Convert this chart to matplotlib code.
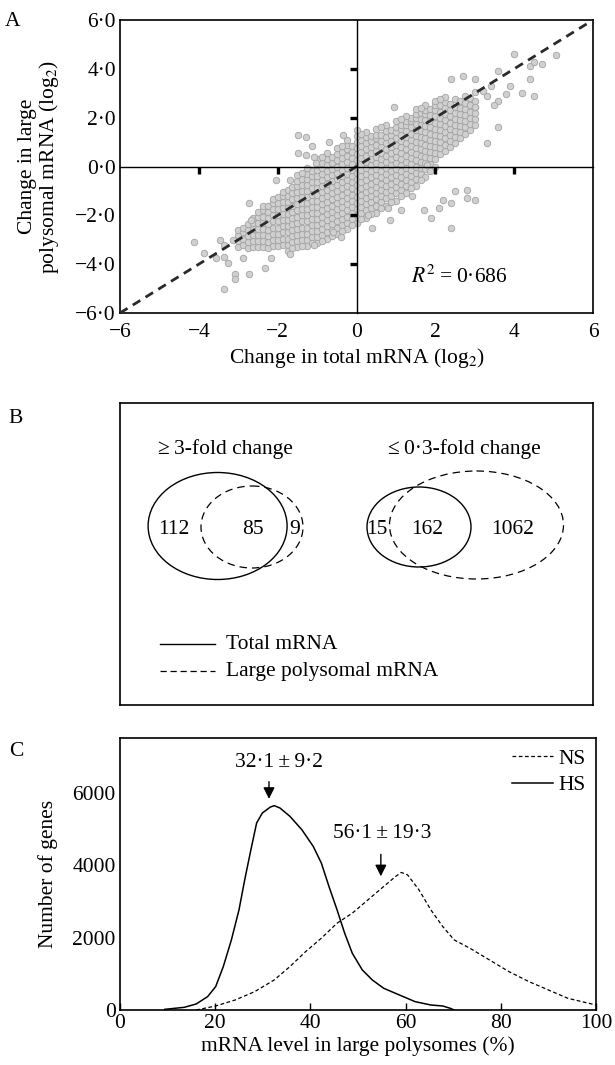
import matplotlib
matplotlib.use("Agg")
import matplotlib.pyplot as plt
from matplotlib.patches import Ellipse
from matplotlib.ticker import FuncFormatter

plt.rcParams['font.family'] = ['Liberation Serif', 'DejaVu Serif']
plt.rcParams['mathtext.fontset'] = 'stix'
plt.rcParams['font.size'] = 15.5

# ---- Panel A data: dense core (x column, y values), its fringe, and scattered outliers
core_columns = [
    (-3.0, [-3.3, -3.05, -2.8, -2.6]),
    (-2.875, [-3.2, -2.95, -2.7, -2.5]),
    (-2.75, [-3.35, -3.1, -2.85, -2.6, -2.35]),
    (-2.625, [-3.3, -3.05, -2.8, -2.55, -2.3, -2.1]),
    (-2.5, [-3.3, -3.05, -2.8, -2.55, -2.3, -2.05, -1.85]),
    (-2.375, [-3.3, -3.05, -2.8, -2.55, -2.3, -2.05, -1.8, -1.6]),
    (-2.25, [-3.35, -3.1, -2.85, -2.6, -2.35, -2.1, -1.85, -1.6]),
    (-2.125, [-3.25, -3.0, -2.75, -2.5, -2.25, -2.0, -1.75, -1.5, -1.35]),
    (-2.0, [-3.25, -3.0, -2.75, -2.5, -2.25, -2.0, -1.75, -1.5, -1.25]),
    (-1.875, [-3.2, -2.95, -2.7, -2.45, -2.2, -1.95, -1.7, -1.45, -1.2, -1.05]),
    (-1.75, [-3.2, -2.95, -2.7, -2.45, -2.2, -1.95, -1.7, -1.45, -1.2, -0.95]),
    (-1.625, [-3.1, -2.85, -2.6, -2.35, -2.1, -1.85, -1.6, -1.35, -1.1, -0.85]),
    (-1.5, [-3.05, -2.8, -2.55, -2.3, -2.05, -1.8, -1.55, -1.3, -1.05, -0.8, -0.6]),
    (-1.375, [-3.0, -2.75, -2.5, -2.25, -2.0, -1.75, -1.5, -1.25, -1.0, -0.75, -0.5]),
    (-1.25, [-3.0, -2.75, -2.5, -2.25, -2.0, -1.75, -1.5, -1.25, -1.0, -0.75, -0.5, -0.3]),
    (-1.125, [-2.9, -2.65, -2.4, -2.15, -1.9, -1.65, -1.4, -1.15, -0.9, -0.65, -0.4, -0.2]),
    (-1.0, [-2.9, -2.65, -2.4, -2.15, -1.9, -1.65, -1.4, -1.15, -0.9, -0.65, -0.4, -0.15, 0.05]),
    (-0.875, [-2.8, -2.55, -2.3, -2.05, -1.8, -1.55, -1.3, -1.05, -0.8, -0.55, -0.3, -0.05, 0.15]),
    (-0.75, [-2.7, -2.45, -2.2, -1.95, -1.7, -1.45, -1.2, -0.95, -0.7, -0.45, -0.2, 0.05, 0.3]),
    (-0.625, [-2.6, -2.35, -2.1, -1.85, -1.6, -1.35, -1.1, -0.85, -0.6, -0.35, -0.1, 0.15, 0.4]),
    (-0.5, [-2.5, -2.25, -2.0, -1.75, -1.5, -1.25, -1.0, -0.75, -0.5, -0.25, 0.0, 0.25, 0.5]),
    (-0.375, [-2.4, -2.15, -1.9, -1.65, -1.4, -1.15, -0.9, -0.65, -0.4, -0.15, 0.1, 0.35, 0.6]),
    (-0.25, [-2.3, -2.05, -1.8, -1.55, -1.3, -1.05, -0.8, -0.55, -0.3, -0.05, 0.2, 0.45, 0.7, 0.9]),
    (-0.125, [-2.15, -1.9, -1.65, -1.4, -1.15, -0.9, -0.65, -0.4, -0.15, 0.1, 0.35, 0.6, 0.85]),
    (0.0, [-2.0, -1.75, -1.5, -1.25, -1.0, -0.75, -0.5, -0.25, 0.0, 0.25, 0.5, 0.75, 1.0]),
    (0.125, [-1.9, -1.65, -1.4, -1.15, -0.9, -0.65, -0.4, -0.15, 0.1, 0.35, 0.6, 0.85, 1.1]),
    (0.25, [-1.8, -1.55, -1.3, -1.05, -0.8, -0.55, -0.3, -0.05, 0.2, 0.45, 0.7, 0.95, 1.2]),
    (0.375, [-1.7, -1.45, -1.2, -0.95, -0.7, -0.45, -0.2, 0.05, 0.3, 0.55, 0.8, 1.05, 1.25]),
    (0.5, [-1.6, -1.35, -1.1, -0.85, -0.6, -0.35, -0.1, 0.15, 0.4, 0.65, 0.9, 1.15, 1.3]),
    (0.625, [-1.45, -1.2, -0.95, -0.7, -0.45, -0.2, 0.05, 0.3, 0.55, 0.8, 1.05, 1.3]),
    (0.75, [-1.3, -1.05, -0.8, -0.55, -0.3, -0.05, 0.2, 0.45, 0.7, 0.95, 1.2, 1.45]),
    (0.875, [-1.2, -0.95, -0.7, -0.45, -0.2, 0.05, 0.3, 0.55, 0.8, 1.05, 1.3, 1.5]),
    (1.0, [-1.1, -0.85, -0.6, -0.35, -0.1, 0.15, 0.4, 0.65, 0.9, 1.15, 1.4, 1.6]),
    (1.125, [-0.95, -0.7, -0.45, -0.2, 0.05, 0.3, 0.55, 0.8, 1.05, 1.3, 1.55, 1.7]),
    (1.25, [-0.8, -0.55, -0.3, -0.05, 0.2, 0.45, 0.7, 0.95, 1.2, 1.45, 1.7, 1.85]),
    (1.375, [-0.65, -0.4, -0.15, 0.1, 0.35, 0.6, 0.85, 1.1, 1.35, 1.6, 1.85, 2.0]),
    (1.5, [-0.5, -0.25, 0.0, 0.25, 0.5, 0.75, 1.0, 1.25, 1.5, 1.75, 2.0, 2.15]),
    (1.625, [-0.3, -0.05, 0.2, 0.45, 0.7, 0.95, 1.2, 1.45, 1.7, 1.95, 2.2]),
    (1.75, [-0.1, 0.15, 0.4, 0.65, 0.9, 1.15, 1.4, 1.65, 1.9, 2.15, 2.3]),
    (1.875, [0.1, 0.35, 0.6, 0.85, 1.1, 1.35, 1.6, 1.85, 2.1, 2.35]),
    (2.0, [0.3, 0.55, 0.8, 1.05, 1.3, 1.55, 1.8, 2.05, 2.3, 2.5]),
    (2.125, [0.5, 0.75, 1.0, 1.25, 1.5, 1.75, 2.0, 2.25, 2.5]),
    (2.25, [0.65, 0.9, 1.15, 1.4, 1.65, 1.9, 2.15, 2.4, 2.65]),
    (2.375, [0.8, 1.05, 1.3, 1.55, 1.8, 2.05, 2.3, 2.55]),
    (2.5, [0.95, 1.2, 1.45, 1.7, 1.95, 2.2, 2.45, 2.75]),
    (2.625, [1.15, 1.4, 1.65, 1.9, 2.15, 2.4, 2.7]),
    (2.75, [1.35, 1.6, 1.85, 2.1, 2.35, 2.6, 2.9]),
    (2.875, [1.5, 1.75, 2.0, 2.25, 2.5, 2.8]),
    (3.0, [1.7, 1.95, 2.2, 2.45, 2.7, 3.05]),
]
fringe = [
    (-1.75, -3.45), (-1.5, -3.3), (-1.25, -3.25), (-1.0, -3.15), (-0.75, -2.95),
    (-0.5, -2.75), (-0.25, -2.55), (0.0, -2.3), (0.25, -2.1), (0.5, -1.9),
    (0.75, -1.6), (1.0, -1.4), (1.25, -1.1), (1.5, -0.8), (1.75, -0.45), (2.0, 0.0),
    (-1.625, -3.35), (-1.375, -3.25), (-1.125, -3.15), (-0.875, -3.05), (-0.625, -2.85),
    (-0.375, -2.65), (-0.125, -2.4), (0.125, -2.15), (0.375, -1.95), (0.625, -1.7),
    (0.875, -1.45), (1.125, -1.2), (1.375, -0.9), (1.625, -0.55), (1.875, -0.2),
    (-1.5, -0.35), (-1.25, -0.05), (-1.0, 0.3), (-0.75, 0.55), (-0.5, 0.75),
    (-0.25, 1.1), (0.0, 1.25), (0.25, 1.4), (0.5, 1.55), (0.75, 1.7), (1.0, 1.85),
    (1.25, 2.05), (1.5, 2.35), (1.75, 2.5), (2.0, 2.7), (2.25, 2.85),
    (-1.375, -0.25), (-0.875, 0.4), (-0.375, 0.85), (0.125, 1.35), (0.625, 1.6),
    (1.125, 1.95), (1.625, 2.4), (2.125, 2.75),
]
outliers = [
    (5.06, 4.57), (4.0, 4.6), (4.7, 4.2), (4.4, 4.1), (4.5, 4.3), (3.6, 3.9),
    (4.4, 3.6), (3.9, 3.3), (4.2, 3.0), (4.5, 2.9), (3.6, 2.7), (3.3, 2.9),
    (3.0, 2.45), (3.6, 1.6), (3.3, 0.95), (2.7, 3.7), (3.0, 3.6), (2.4, 3.6),
    (0.94, 2.45), (3.4, 3.3), (3.2, 3.1), (3.8, 2.95), (3.5, 2.5),
    (2.8, -0.95), (2.5, -1.0), (2.8, -1.3), (3.0, -1.36), (2.2, -1.36),
    (2.4, -1.5), (2.1, -1.7), (1.7, -1.8), (1.9, -2.1), (2.4, -2.5),
    (1.14, -1.8), (0.84, -2.2), (0.4, -2.5), (0.8, -1.7), (0.3, -2.0),
    (1.4, -1.2), (1.8, 0.07),
    (-1.49, 1.3), (-1.29, 1.2), (-1.14, 0.82), (-0.7, 1.0), (-1.49, 0.55),
    (-1.29, 0.48), (-1.09, 0.4), (-1.04, 0.14), (0.0, 1.5), (-0.35, 1.3),
    (-4.12, -3.1), (-3.37, -3.2), (-3.13, -3.0), (-2.73, -1.5), (-2.68, -2.2),
    (-3.37, -3.7), (-3.27, -3.96), (-3.08, -4.4), (-3.08, -4.6), (-3.37, -5.0),
    (-2.73, -4.4), (-2.33, -4.16), (-2.18, -3.75), (-3.57, -3.75), (-3.87, -3.55),
    (-1.69, -3.6), (-2.03, -0.55), (-1.69, -0.55), (-0.4, -2.9), (-0.6, -2.7),
    (-1.09, -3.2), (-2.88, -3.75), (-3.47, -3.0),
]
r_squared_text = '$R^2$\u2009=\u20090\u00b7686'

# ---- Panel B data
venn_titles = ['\u2265\u20093-fold change', '\u2264\u20090\u00b73-fold change']
venn_counts = [[112, 85, 9], [15, 162, 1062]]

# ---- Panel C data
hs_x = [9.4, 13.5, 16.0, 18.4, 20.1, 21.7, 23.4, 25.0, 26.2, 27.5, 28.7, 29.9, 31.6,
        32.4, 33.6, 35.7, 38.2, 40.6, 42.3, 43.9, 45.6, 47.2, 48.8, 50.9, 53.0, 55.4,
        58.7, 62.0, 65.3, 67.8, 69.4, 70.2]
hs_y = [18, 74, 166, 369, 646, 1200, 1938, 2769, 3600, 4431, 5169, 5446, 5612,
        5649, 5585, 5354, 4985, 4523, 4062, 3415, 2769, 2123, 1569, 1108, 831, 600,
        415, 231, 138, 111, 46, 0]
ns_x = [16.0, 20.1, 24.2, 28.3, 32.4, 35.7, 39.0, 42.3, 45.6, 48.8, 52.1, 55.4, 57.9,
        59.1, 60.4, 62.8, 65.3, 67.8, 70.2, 73.5, 77.6, 81.7, 85.9, 90.0, 94.1, 100.0]
ns_y = [0, 111, 277, 508, 831, 1200, 1615, 1985, 2400, 2677, 3046, 3415, 3692,
        3803, 3738, 3323, 2769, 2308, 1938, 1708, 1385, 1062, 785, 554, 323, 138]
peak_labels = ['32\u00b71\u2009\u00b1\u20099\u00b72', '56\u00b71\u2009\u00b1\u200919\u00b73']
peak_x = [31.3, 54.8]

W, H = 615, 1065
fig = plt.figure(figsize=(W / 100, H / 100), dpi=100)


def frac(left, top, right, bottom):
    return [left / W, 1 - bottom / H, (right - left) / W, (bottom - top) / H]


def dot(v, nd=0):
    return f'{v:.{nd}f}'.replace('.', '\u00b7').replace('-', '\u2212')


# ===================== Panel A =====================
posA = frac(120, 20, 593, 313)
axA = fig.add_axes(posA)
pts = [(x, y) for x, ys in core_columns for y in ys] + fringe + outliers
axA.scatter([p[0] for p in pts], [p[1] for p in pts], s=22, facecolor='#d0d0d0',
            edgecolor='#a3a3a3', linewidth=0.6, zorder=2)
axA.plot([-6, 6], [-6, 6], color='#2a2a2a', lw=2.0, dashes=(3.2, 2.2), zorder=3)
axA.set_xlim(-6, 6)
axA.set_ylim(-6, 6)
axA.set_xticks([-6, -4, -2, 0, 2, 4, 6])
axA.set_yticks([-6, -4, -2, 0, 2, 4, 6])
axA.xaxis.set_major_formatter(FuncFormatter(lambda v, p: dot(v, 0)))
axA.yaxis.set_major_formatter(FuncFormatter(lambda v, p: dot(v, 1)))
axA.tick_params(length=0, pad=3)
axA.tick_params(axis='x', pad=7)
for sp in axA.spines.values():
    sp.set_linewidth(1.2)
axA.set_xlabel('Change in total mRNA (log$_2$)', labelpad=3)
axA.set_ylabel('Change in large\npolysomal mRNA (log$_2$)', linespacing=1.0)
axA.yaxis.set_label_coords(-0.125, 0.5)
axA.text(2.6, -4.5, r_squared_text, ha='center', va='center')

# zero lines with their own ticks
axZ = fig.add_axes(posA)
axZ.set_xlim(-6, 6)
axZ.set_ylim(-6, 6)
axZ.patch.set_visible(False)
axZ.spines['left'].set_position(('data', 0))
axZ.spines['bottom'].set_position(('data', 0))
axZ.spines['top'].set_visible(False)
axZ.spines['right'].set_visible(False)
axZ.spines['left'].set_linewidth(1.0)
axZ.spines['bottom'].set_linewidth(1.0)
axZ.set_xticks([-4, -2, 2, 4])
axZ.set_yticks([-4, -2, 2, 4])
axZ.tick_params(direction='out', length=5, width=2.4, labelbottom=False, labelleft=False)
fig.text(13 / W, 1 - 22 / H, 'A', ha='center', va='center')

# ===================== Panel B =====================
axB = fig.add_axes(frac(120, 403, 593, 705))
axB.set_xlim(120, 593)
axB.set_ylim(705, 403)
axB.set_xticks([])
axB.set_yticks([])
for sp in axB.spines.values():
    sp.set_linewidth(1.2)
title_x = [225, 464]
ell_solid = [(217.6, 526, 139, 107), (419, 527, 104, 80)]
ell_dash = [(252, 527, 102, 82), (476.5, 525, 174, 108)]
count_x = [[173.6, 252.6, 294.5], [376.6, 426.7, 512.8]]
for i in range(2):
    axB.text(title_x[i], 449, venn_titles[i], ha='center', va='center')
    cx, cy, w, h = ell_solid[i]
    axB.add_patch(Ellipse((cx, cy), w, h, fill=False, lw=1.0, ec='k'))
    cx, cy, w, h = ell_dash[i]
    axB.add_patch(Ellipse((cx, cy), w, h, fill=False, lw=0.9, ec='k', ls=(0, (6, 4))))
    for xx, n in zip(count_x[i], venn_counts[i]):
        axB.text(xx, 529, str(n), ha='center', va='center')
axB.plot([160, 215], [644, 644], color='k', lw=1.0)
axB.plot([160, 215], [671, 671], color='k', lw=0.9, ls=(0, (5, 3)))
axB.text(226, 644, 'Total mRNA', va='center')
axB.text(226, 671, 'Large polysomal mRNA', va='center')
fig.text(16 / W, 1 - 418 / H, 'B', ha='center', va='center')

# ===================== Panel C =====================
axC = fig.add_axes(frac(120, 738, 596, 1010))
axC.plot(ns_x, ns_y, color='k', lw=0.9, ls=(0, (3, 2)), label='NS')
axC.plot(hs_x, hs_y, color='k', lw=1.1, label='HS')
axC.set_xlim(0, 100)
axC.set_ylim(0, 7520)
axC.set_xticks([0, 20, 40, 60, 80, 100])
axC.set_yticks([0, 2000, 4000, 6000])
axC.tick_params(direction='in', length=5, width=1, pad=3)
axC.tick_params(axis='y', length=0)
for sp in axC.spines.values():
    sp.set_linewidth(1.2)
axC.set_xlabel('mRNA level in large polysomes (%)', labelpad=2)
axC.set_ylabel('Number of genes')
axC.yaxis.set_label_coords(-0.13, 0.5)
axC.legend(loc='upper right', frameon=False, handlelength=1.9, handletextpad=0.25,
           borderaxespad=0.2, borderpad=0.3, labelspacing=0.3)
arrow_y = [(6390, 5760), (4380, 3620)]
label_pos = [(33.3, 6840), (55.0, 4890)]
for lab, m, (y0, y1), (tx, ty) in zip(peak_labels, peak_x, arrow_y, label_pos):
    axC.annotate('', xy=(m, y1), xytext=(m, y0),
                 arrowprops=dict(arrowstyle='-|>', color='k', lw=1.0, mutation_scale=17))
    axC.text(tx, ty, lab, ha='center', va='center')
fig.text(16 / W, 1 - 752 / H, 'C', ha='center', va='center')

fig.savefig('out.png', dpi=100)
